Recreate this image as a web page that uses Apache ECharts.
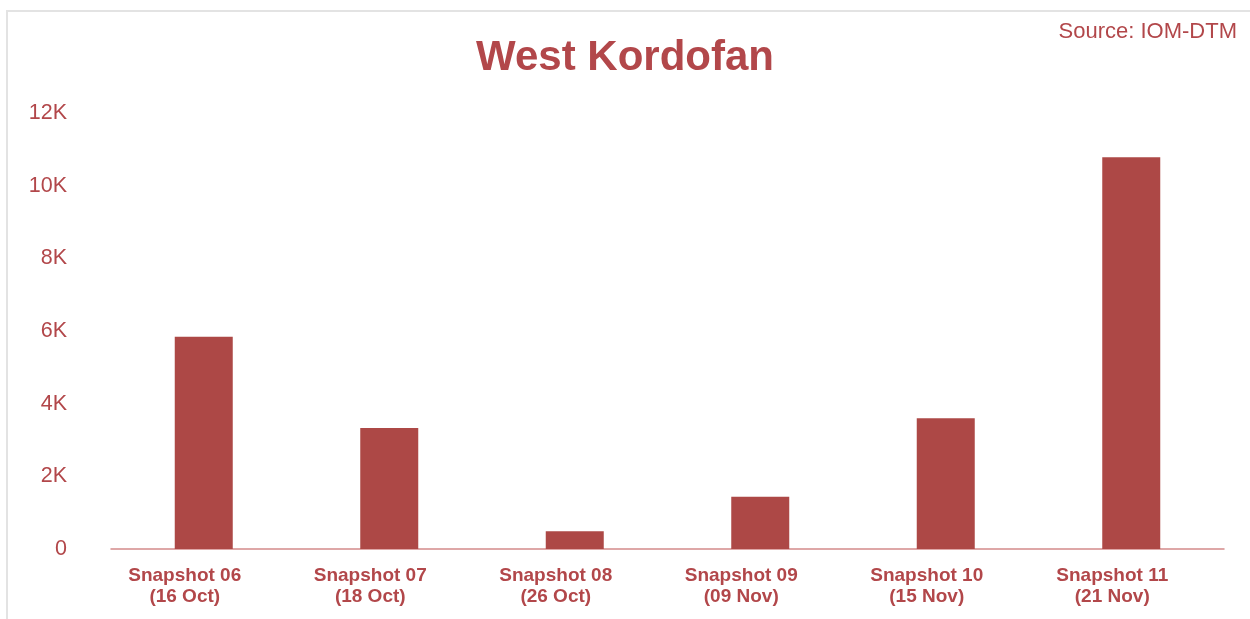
<!DOCTYPE html>
<html>
<head>
<meta charset="utf-8">
<script src="https://cdn.jsdelivr.net/npm/echarts@6/dist/echarts.min.js"></script>
<style>
  html, body { margin: 0; padding: 0; background: #fff; }
  #frame { position: absolute; left: 6px; top: 10px; width: 1270px; height: 650px;
           border-top: 2px solid #e3e3e3; border-left: 2px solid #e3e3e3; }
  #chart { position: absolute; left: 0; top: 0; width: 1250px; height: 619px; }
</style>
</head>
<body>
<div id="frame"></div>
<div id="chart"></div>
<script>
// Snapshot categories (two-line labels) and counts per snapshot
const categories = [
  'Snapshot 06\n(16 Oct)',
  'Snapshot 07\n(18 Oct)',
  'Snapshot 08\n(26 Oct)',
  'Snapshot 09\n(09 Nov)',
  'Snapshot 10\n(15 Nov)',
  'Snapshot 11\n(21 Nov)'
];
const values = [5840, 3330, 490, 1440, 3600, 10780];
const yTicks = [0, 2000, 4000, 6000, 8000, 10000, 12000];

const textColor = '#b2474a';
const barColor = '#ad4846';
const font = 'Liberation Sans, Arial, sans-serif';

const chart = echarts.init(document.getElementById('chart'));
chart.setOption({
  animation: false,
  title: [
    {
      text: 'West Kordofan',
      left: 'center',
      top: 32,
      textStyle: { color: textColor, fontSize: 42, fontWeight: 'bold', fontFamily: font }
    },
    {
      text: 'Source: IOM-DTM',
      right: 8,
      top: 16,
      textStyle: { color: textColor, fontSize: 22, fontWeight: 'normal', fontFamily: font }
    }
  ],
  grid: { left: 111, right: 26, top: 113, bottom: 70, containLabel: false },
  xAxis: {
    type: 'category',
    data: categories,
    axisLine: { lineStyle: { color: '#d48a8b', width: 1.5 } },
    axisTick: { show: false },
    axisLabel: {
      color: textColor,
      fontSize: 19,
      fontWeight: 'bold',
      lineHeight: 21,
      margin: 16,
      padding: [0, 38, 0, 0],
      fontFamily: font
    }
  },
  yAxis: {
    type: 'value',
    min: yTicks[0],
    max: yTicks[yTicks.length - 1],
    interval: yTicks[1] - yTicks[0],
    splitLine: { show: false },
    axisLine: { show: false },
    axisTick: { show: false },
    axisLabel: {
      color: textColor,
      fontSize: 21.5,
      margin: 44,
      fontFamily: font,
      formatter: v => v === 0 ? '0' : (v / 1000) + 'K'
    }
  },
  series: [{
    type: 'bar',
    data: values,
    barWidth: 58,
    itemStyle: { color: barColor }
  }]
});
</script>
</body>
</html>
